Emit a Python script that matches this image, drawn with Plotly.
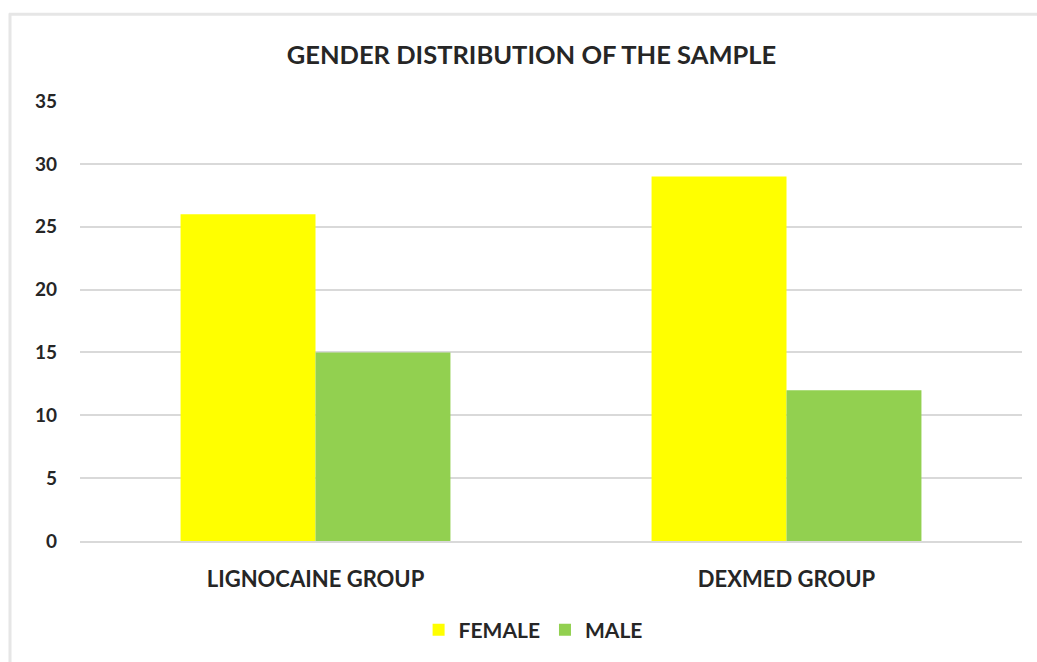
import plotly.graph_objects as go

# Sample counts per study group, split by gender
groups = ["LIGNOCAINE GROUP", "DEXMED GROUP"]
female = [26, 29]
male = [15, 12]
y_ticks = [0, 5, 10, 15, 20, 25, 30, 35]

FONT = "Lato"
TEXT = "#262626"
FRAME = "#e6e6e6"

# plot area in pixels, used to place the frame lines in paper units
L, R, T, B = 80, 15, 101, 120
W, H = 1037, 662
PW, PH = W - L - R, H - T - B


def px_x(x):
    return (x - L) / PW


def px_y(y):
    return (H - B - y) / PH


fig = go.Figure()
fig.add_trace(go.Bar(name="FEMALE", x=groups, y=female, marker_color="#FFFF00",
                     marker_line_width=0))
fig.add_trace(go.Bar(name="MALE", x=groups, y=male, marker_color="#92D050",
                     marker_line_width=0))

fig.update_layout(
    width=W, height=H,
    paper_bgcolor="white", plot_bgcolor="white",
    margin=dict(l=L, r=R, t=T, b=B),
    barmode="group", bargap=0.427, bargroupgap=0,
    title=dict(text="GENDER DISTRIBUTION OF THE SAMPLE", x=0.5125, xanchor="center",
               y=0.917, yanchor="middle",
               font=dict(family=FONT, size=25.5, color=TEXT, weight="bold")),
    font=dict(family=FONT, color=TEXT, weight="bold"),
    legend=dict(orientation="h", x=0.481, xanchor="center", y=-0.2, yanchor="middle",
                font=dict(family=FONT, size=21, color=TEXT, weight="bold"),
                itemwidth=30, traceorder="normal"),
    showlegend=True,
    shapes=[
        # outer frame: top and left edges only
        dict(type="line", xref="paper", yref="paper",
             x0=px_x(9), x1=px_x(W + 5), y0=px_y(14), y1=px_y(14),
             line=dict(color=FRAME, width=3), layer="below"),
        dict(type="line", xref="paper", yref="paper",
             x0=px_x(10), x1=px_x(10), y0=px_y(13), y1=px_y(H + 5),
             line=dict(color=FRAME, width=3), layer="below"),
    ],
)
fig.update_yaxes(range=[0, 35], tickvals=y_ticks, showgrid=True, gridcolor="#d9d9d9",
                 gridwidth=1.5, zeroline=False, showline=False,
                 tickfont=dict(family=FONT, size=19, color=TEXT, weight="bold"),
                 ticklabelstandoff=22)
fig.update_xaxes(showline=True, linecolor="#d9d9d9", linewidth=1.5,
                 tickfont=dict(family=FONT, size=22, color=TEXT, weight="bold"),
                 ticklabelstandoff=18)

fig.write_html("out.html")
